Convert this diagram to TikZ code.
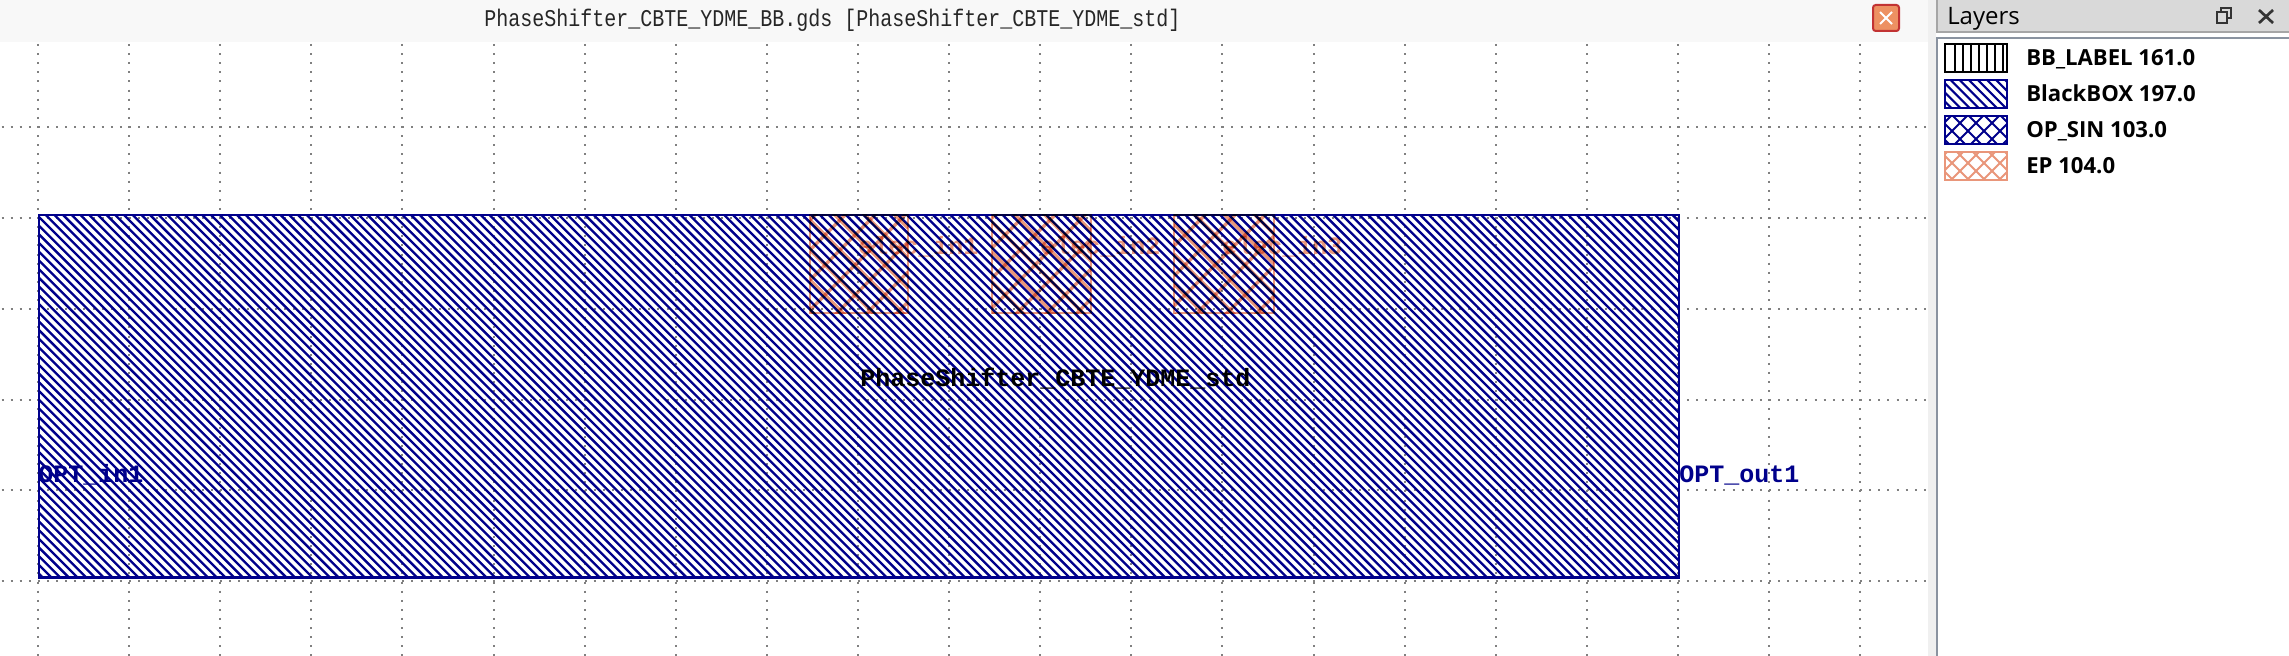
\documentclass[tikz,border=0pt]{standalone}
\usepackage{fontspec}
\setmainfont{Open Sans}
\newfontfamily\monoface{Liberation Mono}
\usetikzlibrary{calc}
\definecolor{navyline}{HTML}{00008B}
\definecolor{salmonline}{HTML}{E9967A}
\definecolor{griddot}{HTML}{808080}
\definecolor{barbg}{HTML}{F8F8F8}
\definecolor{bandbg}{HTML}{F0F0F0}
\definecolor{headbg}{HTML}{D9D9D9}
\definecolor{panelline}{HTML}{8A93A0}
\tikzset{
  x=0.75pt,y=-0.75pt,
  griddots/.style={griddot,line width=1.5pt,dash pattern=on 1.5pt off 5.333pt},
  outline/.style={line width=1.7pt},
  mainlabel/.style={inner sep=0pt,anchor=base west,font=\monoface\bfseries\fontsize{18.75pt}{20pt}\selectfont},
  layerlabel/.style={inner sep=0pt,anchor=base west,font=\bfseries\fontsize{16.6pt}{20pt}\selectfont,text=black},
}
% #1 x1, #2 y1, #3 x2, #4 y2, #5 period, #6 colour, #7 width(pt), #8 phase
\newcommand\hatchdown[8]{%
  \begin{scope}
    \clip (#1,#2) rectangle (#3,#4);
    \pgfmathtruncatemacro\kfrom{floor((#2-#3-#8)/#5)}
    \pgfmathtruncatemacro\kto{ceil((#4-#1-#8)/#5)}
    \pgfmathtruncatemacro\knext{\kfrom+1}
    \foreach \k in {\kfrom,\knext,...,\kto}{
      \pgfmathsetmacro\cc{#8+\k*#5}
      \draw[#6,line width=#7] (#1,#1+\cc) -- (#3,#3+\cc);
    }
  \end{scope}}
\newcommand\hatchup[8]{%
  \begin{scope}
    \clip (#1,#2) rectangle (#3,#4);
    \pgfmathtruncatemacro\kfrom{floor((#2+#1-#8)/#5)}
    \pgfmathtruncatemacro\kto{ceil((#4+#3-#8)/#5)}
    \pgfmathtruncatemacro\knext{\kfrom+1}
    \foreach \k in {\kfrom,\knext,...,\kto}{
      \pgfmathsetmacro\cc{#8+\k*#5}
      \draw[#6,line width=#7] (#1,\cc-#1) -- (#3,\cc-#3);
    }
  \end{scope}}
\begin{document}
\begin{tikzpicture}
\useasboundingbox (0,0) rectangle (2289,656);
\fill[white] (0,0) rectangle (2289,656);
% grid
\foreach \yy in {127,218,309,399.5,490,581}{
  \draw[griddots] (1.5,\yy) -- (1926,\yy);
}
\foreach \xx in {38,129.1,220.2,311.3,402.4,493.5,584.7,675.8,766.9,858,949.1,1040.2,1131.3,1222.4,1313.5,1404.7,1495.8,1586.9,1678,1769.1,1860.2}{
  \draw[griddots] (\xx,44) -- (\xx,656);
}
% title bar
\fill[barbg] (0,0) rectangle (1928,42);
\fill[bandbg] (1928,0) rectangle (1936,656);
\node[inner sep=0pt,anchor=base west,text=black!85] (title) at (484,27) {\scalebox{1}[1.2]{\monoface\fontsize{15pt}{18pt}\selectfont PhaseShifter\_CBTE\_YDME\_BB.gds [PhaseShifter\_CBTE\_YDME\_std]}};
% close button
\draw[fill=salmonline!80!orange,draw=red!70!black!80,line width=1.5pt,rounded corners=2pt] (1873,5) rectangle (1899,31);
\draw[white,line width=1.5pt] (1880,12) -- (1892,24) (1892,12) -- (1880,24);
% main black box
\hatchdown{39}{215}{1679}{577.5}{8.7}{navyline}{1.75pt}{4}
\draw[navyline,outline] (39,215) rectangle (1679,577.5);
% electrical pads, multiplied over the box
\begin{scope}[blend mode=multiply]
  \foreach \xa/\xb in {810/908,992/1091,1174/1274}{
    \hatchdown{\xa}{215}{\xb}{313}{30}{salmonline}{2.6pt}{-590}
    \hatchup{\xa}{215}{\xb}{313}{30}{salmonline}{2.6pt}{10}
    \draw[salmonline,line width=2pt] (\xa,215) rectangle (\xb,313);
  }
  \node[mainlabel,text=salmonline] (e1) at (858,254) {elec\_in1};
  \node[mainlabel,text=salmonline] (e2) at (1040,254) {elec\_in2};
  \node[mainlabel,text=salmonline] (e3) at (1222,254) {elec\_in3};
\end{scope}
\node[mainlabel,text=black] (cell) at (860,386) {PhaseShifter\_CBTE\_YDME\_std};
\node[mainlabel,text=navyline] (opin) at (38,482) {OPT\_in1};
\node[mainlabel,text=navyline] (opout) at (1679,482) {OPT\_out1};
% layers panel
\fill[headbg] (1937,0) rectangle (2289,32);
\draw[black!35,line width=0.9pt] (1937,0) -- (1937,32) -- (2289,32);
\fill[white] (1937,38) rectangle (2289,656);
\draw[panelline,line width=1pt] (2289,38) -- (1937,38) -- (1937,656);
\node[inner sep=0pt,anchor=base west,text=black,font=\fontsize{18pt}{20pt}\selectfont] (ltitle) at (1947,25) {Layers};
\draw[black!80,line width=1.4pt] (2217,12) rectangle (2227,23);
\draw[black!80,line width=1.4pt] (2221,12) -- (2221,8) -- (2231,8) -- (2231,18) -- (2227,18);
\draw[black!80,line width=2pt] (2259,10) -- (2273,23) (2273,10) -- (2259,23);
% swatches
\foreach \xx in {1955,1963,1971,1979,1987,1995,2003}{
  \draw[black,line width=1.5pt] (\xx,44) -- (\xx,72);
}
\draw[black,line width=2pt] (1945,44) rectangle (2007,72);
\hatchdown{1945}{80}{2007}{108}{9.1}{navyline}{1.6pt}{4}
\draw[navyline,outline] (1945,80) rectangle (2007,108);
\hatchdown{1945}{116}{2007}{144}{16}{navyline}{1.5pt}{3}
\hatchup{1945}{116}{2007}{144}{16}{navyline}{1.5pt}{3}
\draw[navyline,outline] (1945,116) rectangle (2007,144);
\hatchdown{1945}{152}{2007}{180}{16}{salmonline}{1.5pt}{3}
\hatchup{1945}{152}{2007}{180}{16}{salmonline}{1.5pt}{3}
\draw[salmonline,outline] (1945,152) rectangle (2007,180);
\node[layerlabel] (l1) at (2026,65.5) {BB\_LABEL 161.0};
\node[layerlabel] (l2) at (2026,101.5) {BlackBOX 197.0};
\node[layerlabel] (l3) at (2026,137.5) {OP\_SIN 103.0};
\node[layerlabel] (l4) at (2026,173.5) {EP 104.0};
\end{tikzpicture}
\end{document}
